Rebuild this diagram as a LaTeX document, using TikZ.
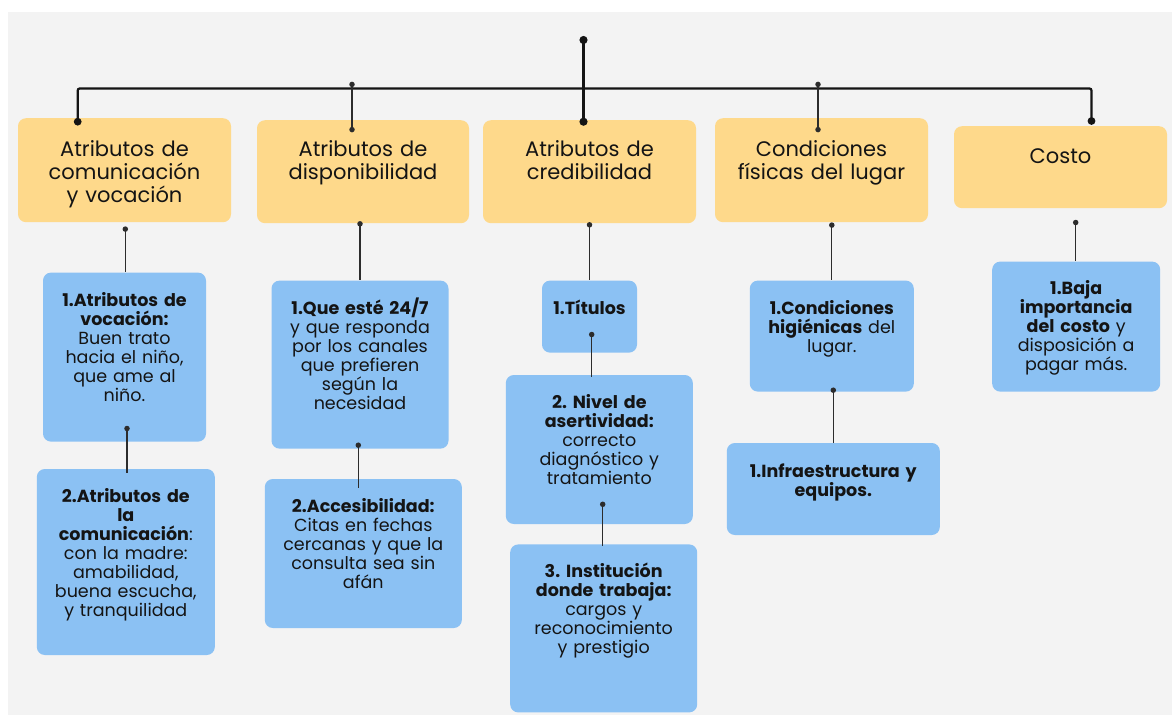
\documentclass[tikz,border=0pt]{standalone}
\usepackage{fontspec}
\setmainfont{Poppins}
\frenchspacing
\usetikzlibrary{arrows.meta,positioning,calc}
\definecolor{canvas}{HTML}{F3F3F3}
\definecolor{sand}{HTML}{FED98B}
\definecolor{sky}{HTML}{8BC1F3}
\definecolor{ink}{HTML}{141414}
\tikzset{
  head/.style={fill=sand, rounded corners=8pt, anchor=north, inner sep=0pt, text width=213pt,
               align=center, text=ink, font=\fontsize{21}{23}\selectfont},
  item/.style={fill=sky, rounded corners=8pt, inner sep=0pt, align=center, text=ink,
               font=\fontsize{17.5}{19}\selectfont},
  trunk/.style={{Circle[length=8pt]}-{Circle[length=8pt]}, line width=2.2pt, draw=ink},
  bar/.style={{Circle[length=7.6pt]}-{Circle[length=7.6pt]}, line width=2.2pt, draw=ink,
              rounded corners=2pt},
  twig/.style={{Circle[length=5.4pt]}-{Circle[length=5.4pt]}, line width=1.3pt, draw=ink!90},
  link/.style={{Circle[length=5.4pt]}-, line width=1.3pt, draw=ink!90}
}

\begin{document}
\begin{tikzpicture}[x=1pt, y=1pt]

  \fill[white] (0,0) rectangle (1172,-715);
  \fill[canvas] (8,-12) rectangle (1172,-715);
  \useasboundingbox (0,0) rectangle (1172,-715);

  %% first level
  \node[head, text height=38pt, text depth=66pt] (cv) at (124.5,-118)
        {Atributos de\\comunicación\\y vocación};
  \node[head, text height=36pt, text depth=67pt, text width=212pt] (disp) at (363,-120)
        {Atributos de\\disponibilidad};
  \node[head, text height=36pt, text depth=67pt] (cred) at (589.5,-120)
        {Atributos de\\credibilidad};
  \node[head, text height=38pt, text depth=66pt] (lugar) at (821.5,-118)
        {Condiciones\\físicas del lugar};
  \node[head, text height=37pt, text depth=45pt] (costo) at (1060.5,-126) {Costo};

  %% comunicación y vocación
  \node[item, below=50pt of cv, text width=163pt, text height=34pt, text depth=135pt] (voc)
        {\textbf{1.Atributos de}\\\textbf{vocación:}\\Buen trato\\hacia el niño,\\que ame al\\niño.};
  \node[item, below=27pt of voc, xshift=1.3pt, text width=178pt, text height=33pt, text depth=153pt] (mad)
        {\textbf{2.Atributos de}\\\textbf{la}\\\textbf{comunicación}:\\con la madre:\\amabilidad,\\buena escucha,\\y tranquilidad};

  %% disponibilidad
  \node[item, below=57pt of disp, xshift=-3pt, text width=177pt, text height=34pt, text depth=134pt] (siempre)
        {\textbf{1.Que esté 24/7}\\y que responda\\por los canales\\que prefieren\\según la\\necesidad};
  \node[item, below=30pt of siempre, xshift=3.3pt, text width=197pt, text height=33pt, text depth=116pt] (acceso)
        {\textbf{2.Accesibilidad:}\\Citas en fechas\\cercanas y que la\\consulta sea sin\\afán};

  %% credibilidad
  \node[item, below=57pt of cred, text width=95pt, text height=34pt, text depth=38pt] (tit)
        {\textbf{1.Títulos}};
  \node[item, below=22pt of tit, xshift=9.8pt, text width=187pt, text height=33pt, text depth=116pt] (niv)
        {\textbf{2. Nivel de}\\\textbf{asertividad:}\\correcto\\diagnóstico y\\tratamiento};
  \node[item, below=20pt of niv, xshift=4.4pt, text width=187pt, text height=33pt, text depth=135pt] (inst)
        {\textbf{3. Institución}\\\textbf{donde trabaja:}\\cargos y\\reconocimiento\\y prestigio};

  %% condiciones físicas
  \node[item, below=58pt of lugar, xshift=10.3pt, text width=164pt, text height=34pt, text depth=77pt] (hig)
        {\textbf{1.Condiciones}\\\textbf{higiénicas} del\\lugar.};
  \node[item, below=51pt of hig, xshift=1.5pt, text width=213pt, text height=34pt, text depth=58pt] (infra)
        {\textbf{1.Infraestructura y}\\\textbf{equipos.}};

  %% costo
  \node[item, below=53pt of costo, xshift=15.7pt, text width=168pt, text height=33pt, text depth=97pt] (baja)
        {\textbf{1.Baja}\\\textbf{importancia}\\\textbf{del costo} y\\disposición a\\pagar más.};

  %% top connectors
  \coordinate (root) at (583.5,-36);
  \coordinate (bar) at (583.5,-88.5);
  \draw[trunk] (root) -- ($(root |- cred.north)+(0,-5.7)$);
  \draw[bar] ($(cv.north)+(-46.8,-7.5)$) |- (bar) -| ($(costo.north)+(31,1.2)$);
  \draw[twig] ($(disp.north)+(-11,38.3)$) -- ($(disp.north)+(-11,-12.3)$);
  \draw[twig] ($(lugar.north)+(-3.5,36.3)$) -- ($(lugar.north)+(-3.5,-14.3)$);

  %% column connectors
  \draw[link] ($(cv.south)+(0.8,-4)$) -- ($(voc.north)+(0.8,0)$);
  \draw[link] ($(voc.south)+(2.5,16)$) -- ($(mad.north)+(1.2,-3.7)$);
  \draw[link] ($(disp.south)+(-3,2.3)$) -- (siempre.north);
  \draw[link] ($(siempre.south)+(-1.7,6.3)$) -- ($(acceso.north)+(-5,-8.7)$);
  \draw[link] ($(cred.south)+(0,1.3)$) -- (tit.north);
  \draw[link] ($(tit.south)+(2.2,21)$) -- ($(niv.north)+(-7.6,-2)$);
  \draw[link] ($(niv.south)+(3.4,22.6)$) -- ($(inst.north)+(-1,-2)$);
  \draw[link] ($(lugar.south)+(10.3,0)$) -- (hig.north);
  \draw[link] ($(hig.south)+(1.5,4.3)$) -- (infra.north);
  \draw[link] ($(costo.south)+(15.2,-11.4)$) -- ($(baja.north)+(-0.5,0)$);

\end{tikzpicture}
\end{document}
